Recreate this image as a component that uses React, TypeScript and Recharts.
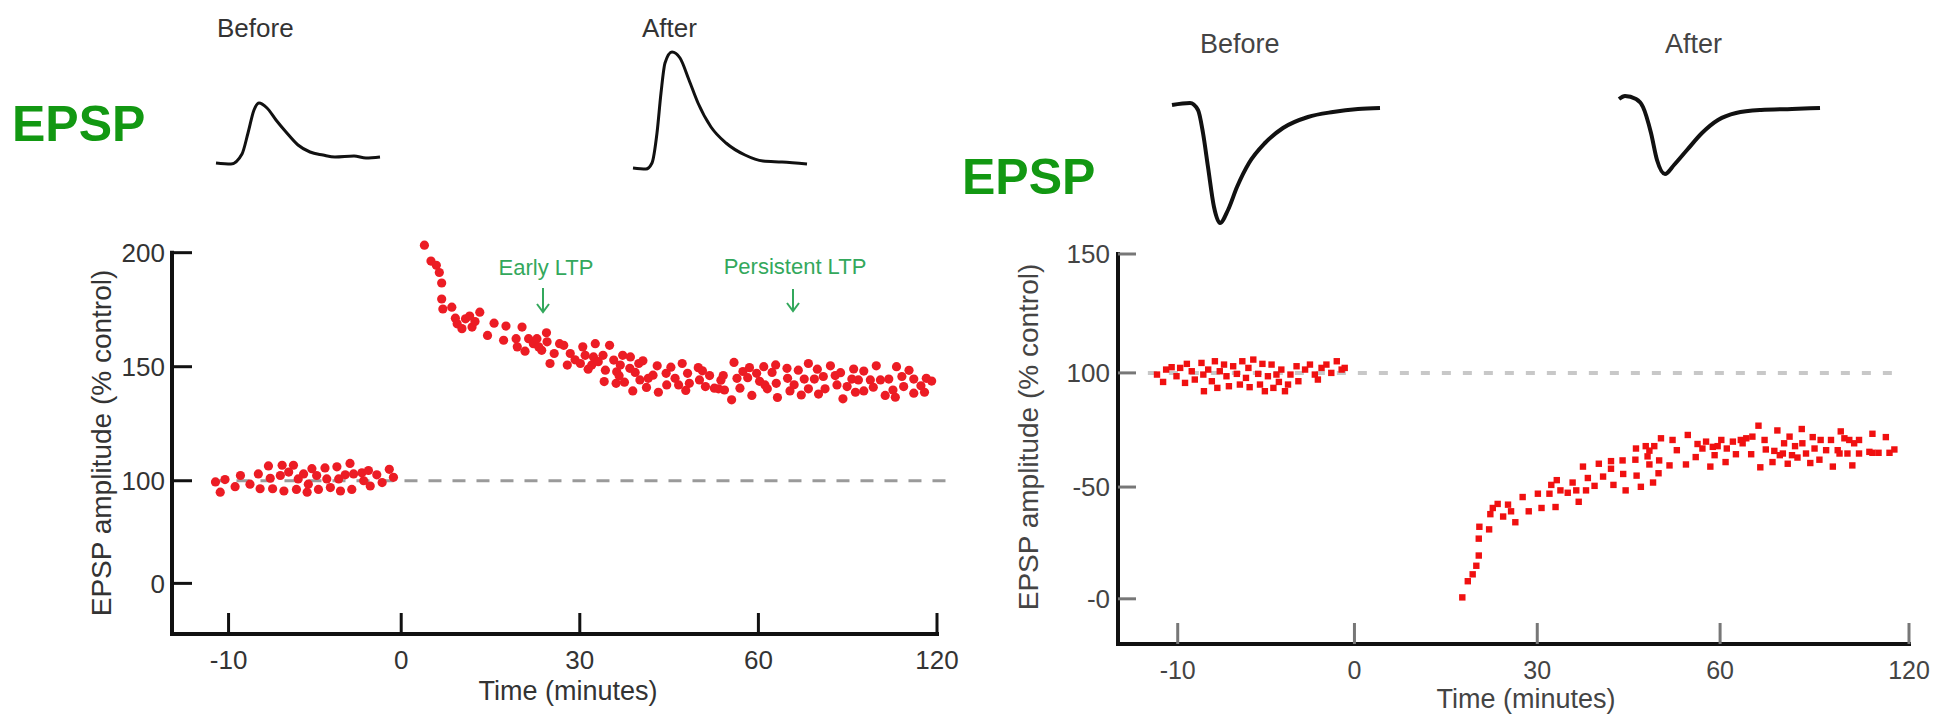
import React from 'react';
import { ScatterChart, Scatter, LineChart, Line, XAxis, YAxis, ReferenceLine } from 'recharts';

const FONT = '"Liberation Sans", Arial, Helvetica, sans-serif';
const GREEN = '#129812';
const NOTE_GREEN = '#33a85c';

// tick positions on each axis and the labels printed at them
const leftXTicks = [-29, 0, 30, 60, 90];
const rightXTicks = [-29, 0, 30, 60, 91];
const xTickLabels = ['-10', '0', '30', '60', '120'];
const leftYTicks = [55, 100, 150, 200];
const leftYLabels = ['0', '100', '150', '200'];
const rightYTicks = [5, 52, 100, 150];
const rightYLabels = ['-0', '-50', '100', '150'];

// EPSP traces: [time, amplitude]
const leftBefore = [
  [0, 2], [15, 1], [26, 11], [32, 32], [38, 55], [43, 62], [51, 57], [60, 45], [70, 33],
  [82, 20], [94, 13], [107, 10], [119, 8], [138, 9], [150, 7], [164, 8],
];
const leftAfter = [
  [0, 0], [13, -1], [19, 5], [24, 35], [28, 75], [32, 105], [39, 116], [47, 110], [56, 88],
  [65, 65], [78, 41], [93, 25], [112, 13], [130, 7], [149, 6], [174, 4],
];
const rightBefore = [
  [0, 0], [18, 2], [26, -5], [31, -28], [36, -62], [42, -102], [48, -118], [56, -105],
  [65, -82], [77, -58], [93, -38], [111, -23], [136, -12], [161, -7], [186, -4], [208, -3],
];
const rightAfter = [
  [0, 0], [6, 3], [17, 0], [24, -8], [32, -34], [38, -61], [46, -75], [55, -66], [68, -51],
  [83, -34], [99, -21], [117, -14], [142, -11], [173, -10], [201, -9],
];

// left panel (LTP): [time, % control]
const leftBaseline = [
  [-31.2, 99.5], [-30.4, 95.0], [-29.6, 100.5], [-27.9, 97.4], [-27.0, 102.3], [-25.4, 98.5],
  [-24.0, 103.0], [-23.7, 96.5], [-22.3, 106.5], [-22.0, 101.1], [-21.6, 96.5], [-20.3, 102.3],
  [-20.0, 106.8], [-19.7, 95.5], [-18.9, 103.8], [-18.1, 106.8], [-17.6, 96.2], [-17.3, 100.8],
  [-16.4, 103.0], [-15.8, 95.0], [-15.6, 98.5], [-15.0, 105.3], [-14.2, 102.3], [-13.9, 96.2],
  [-12.8, 105.6], [-12.5, 100.8], [-11.9, 97.0], [-10.8, 106.1], [-10.5, 100.8], [-10.2, 95.5],
  [-9.4, 102.6], [-8.6, 107.6], [-8.3, 96.2], [-8.0, 103.0], [-6.6, 103.5], [-6.3, 100.0],
  [-5.5, 104.5], [-5.2, 97.7], [-4.1, 102.6], [-3.2, 99.2], [-2.0, 105.0], [-1.3, 101.5],
];
const leftPotentiated = [
  [3.9, 203.3], [5.0, 196.3], [5.9, 194.5], [6.4, 191.3], [6.8, 186.7], [6.8, 179.7], [7.0, 175.3],
  [8.5, 176.1], [9.1, 171.3], [9.4, 168.8], [10.2, 166.7], [10.8, 171.0], [11.5, 172.2], [11.9, 167.4],
  [12.4, 169.8], [13.2, 173.9], [14.5, 163.7], [15.6, 169.1], [17.2, 161.6], [17.6, 167.8], [19.3, 162.3],
  [19.5, 158.7], [20.3, 167.4], [20.8, 156.8], [21.4, 162.3], [22.2, 160.1], [22.8, 162.3], [23.1, 158.7],
  [23.6, 157.2], [24.4, 164.9], [24.5, 160.9], [25.0, 151.4], [25.7, 155.8], [26.6, 160.1], [27.3, 159.4],
  [27.9, 150.7], [28.4, 155.8], [29.2, 153.0], [30.1, 151.4], [30.5, 158.7], [30.9, 155.0], [31.4, 148.9],
  [32.0, 150.7], [32.3, 154.3], [32.6, 160.1], [33.1, 152.2], [33.9, 155.0], [34.3, 148.5], [34.1, 143.5],
  [35.0, 159.4], [35.7, 152.9], [36.1, 142.7], [36.2, 147.8], [36.6, 146.0], [36.8, 150.7], [37.2, 155.0],
  [37.5, 143.2], [38.4, 149.3], [38.5, 154.3], [38.9, 139.4], [39.3, 147.5], [39.9, 151.4], [40.1, 144.2],
  [40.6, 152.6], [41.2, 140.9], [41.5, 144.9], [42.3, 146.3], [43.0, 150.4], [43.2, 138.8], [44.5, 147.1],
  [44.6, 142.0], [45.3, 149.8], [46.0, 144.9], [46.6, 142.0], [47.2, 151.4], [47.8, 139.6], [48.1, 147.1],
  [48.4, 142.7], [49.9, 149.6], [50.1, 144.2], [50.6, 148.2], [51.1, 141.3], [51.8, 146.1], [52.6, 140.6],
  [53.3, 140.3], [53.7, 144.1], [54.1, 146.1], [54.3, 139.8], [55.5, 135.5], [55.9, 151.9], [56.4, 144.9],
  [56.9, 140.6], [57.4, 147.9], [58.2, 145.2], [58.5, 149.6], [58.9, 137.4], [59.7, 147.1], [60.2, 143.6],
  [60.9, 150.0], [61.1, 142.0], [61.5, 140.3], [62.3, 147.5], [62.9, 150.8], [63.0, 142.7], [63.2, 136.5],
  [64.8, 149.3], [64.9, 144.9], [65.3, 139.4], [66.0, 142.1], [66.7, 148.5], [67.2, 137.6], [67.7, 144.6],
  [68.4, 151.4], [68.4, 140.3], [69.4, 144.6], [69.9, 148.9], [70.1, 138.0], [70.9, 145.7], [71.2, 140.3],
  [72.1, 150.4], [72.9, 146.1], [73.2, 142.0], [73.8, 147.4], [74.2, 135.9], [74.9, 141.3], [75.7, 144.6],
  [76.0, 149.0], [76.3, 138.8], [76.8, 144.2], [77.7, 148.1], [77.7, 139.4], [78.8, 144.2], [79.3, 141.0],
  [79.8, 150.4], [80.5, 144.2], [81.3, 137.4], [81.9, 144.6], [82.6, 139.8], [83.0, 136.6], [83.2, 150.0],
  [84.1, 145.7], [84.4, 141.3], [85.3, 148.4], [86.1, 144.6], [86.1, 138.4], [87.3, 141.6], [87.9, 138.8],
  [88.2, 144.9], [89.1, 143.7],
];

// right panel (depression): [time, % control]
const rightBaseline = [
  [-32.4, 99.3], [-31.4, 96.2], [-30.9, 101.4], [-30.0, 102.4], [-29.2, 98.6], [-28.6, 102.1],
  [-27.8, 95.8], [-27.5, 103.8], [-26.7, 100.7], [-26.2, 97.2], [-25.1, 104.2], [-24.8, 99.3],
  [-24.7, 92.3], [-24.0, 101.4], [-23.4, 96.5], [-22.9, 104.9], [-22.5, 93.7], [-22.1, 100.7],
  [-21.4, 103.5], [-21.0, 98.6], [-20.6, 94.4], [-19.9, 102.8], [-19.3, 99.6], [-18.8, 95.1],
  [-18.4, 104.9], [-17.8, 97.9], [-17.4, 102.1], [-17.2, 94.0], [-16.6, 105.6], [-15.8, 99.6],
  [-15.5, 95.1], [-15.1, 103.8], [-14.7, 92.3], [-14.2, 98.6], [-13.6, 103.5], [-13.3, 93.7],
  [-12.8, 99.3], [-12.4, 96.2], [-12.0, 101.4], [-11.4, 92.3], [-10.9, 95.1], [-10.5, 99.3],
  [-9.5, 102.8], [-9.2, 96.5], [-8.1, 101.4], [-7.3, 103.5], [-6.5, 99.3], [-6.0, 97.2],
  [-5.4, 102.1], [-4.6, 103.5], [-3.8, 100.0], [-2.9, 104.9], [-2.1, 101.4], [-1.6, 102.1],
];
const rightDepressed = [
  [17.7, 5.6], [18.6, 12.4], [19.4, 15.3], [20.0, 18.9], [20.4, 23.2], [20.4, 30.3], [20.5, 35.3],
  [22.1, 34.2], [22.3, 40.6], [22.7, 43.2], [23.5, 44.9], [24.4, 39.6], [25.2, 44.6], [25.7, 41.8],
  [26.4, 37.2], [27.6, 47.8], [28.6, 41.8], [30.1, 49.2], [30.7, 43.2], [32.0, 49.2], [32.3, 52.9],
  [33.0, 43.6], [33.2, 54.9], [33.8, 50.6], [35.0, 49.6], [35.8, 53.9], [36.4, 50.6], [36.8, 45.8],
  [37.5, 60.6], [38.0, 50.6], [38.3, 55.8], [39.4, 52.5], [40.1, 61.8], [40.8, 56.4], [42.1, 62.9],
  [42.1, 59.7], [42.5, 52.9], [44.0, 63.2], [44.1, 57.5], [44.5, 50.6], [46.2, 68.2], [46.1, 63.5],
  [46.3, 56.8], [47.0, 52.1], [47.8, 69.2], [48.1, 64.9], [48.4, 61.5], [48.4, 67.3], [49.0, 53.9],
  [49.2, 69.2], [49.9, 57.8], [50.0, 63.2], [50.3, 72.5], [51.7, 61.1], [52.2, 71.8], [52.9, 67.5],
  [54.4, 61.5], [54.7, 73.9], [56.0, 64.6], [56.3, 70.1], [57.1, 68.2], [57.7, 71.1], [58.4, 60.6],
  [58.8, 68.9], [59.1, 65.4], [59.6, 69.2], [60.2, 71.8], [60.9, 62.5], [61.1, 68.2], [62.1, 71.1],
  [62.6, 65.8], [63.4, 71.8], [63.7, 70.4], [64.3, 72.5], [65.1, 65.8], [65.3, 73.2], [66.3, 77.8],
  [66.6, 60.3], [67.3, 71.8], [67.5, 67.8], [68.6, 62.5], [68.9, 67.2], [69.4, 75.8], [69.8, 65.4],
  [70.3, 66.1], [70.5, 70.4], [71.1, 61.8], [71.4, 73.2], [71.8, 65.4], [72.3, 69.2], [72.7, 64.4],
  [73.4, 76.4], [73.5, 70.4], [74.1, 66.1], [74.8, 62.1], [75.2, 73.0], [75.5, 68.2], [76.3, 63.5],
  [76.5, 71.8], [77.4, 67.5], [78.2, 71.8], [78.5, 60.6], [79.3, 67.5], [79.6, 66.1], [79.8, 75.4],
  [80.4, 72.5], [80.9, 66.1], [81.2, 71.8], [81.7, 61.1], [82.0, 70.4], [82.8, 66.1], [82.8, 71.8],
  [84.5, 66.8], [85.0, 74.4], [85.0, 66.4], [86.0, 66.4], [87.2, 73.0], [87.8, 66.4], [88.6, 67.8],
];

const toPts = (arr: number[][]) => arr.map(([t, v]) => ({ t, v }));

const redDot = (p: any) => <circle cx={p.cx} cy={p.cy} r={4.6} fill="#ec1c24" />;
const redSquare = (p: any) => <rect x={p.cx - 3.2} y={p.cy - 3.2} width={6.4} height={6.4} fill="#f01010" />;

function Trace({ data, x0, baseY, sw }: { data: number[][]; x0: number; baseY: number; sw: number }) {
  const ts = data.map((d) => d[0]);
  const vs = data.map((d) => d[1]);
  const tMax = Math.max(...ts);
  const vMin = Math.min(...vs);
  const vMax = Math.max(...vs);
  const pad = 4;
  return (
    <div style={{ position: 'absolute', left: x0 - pad, top: baseY - vMax - pad }}>
      <LineChart
        width={tMax + pad * 2}
        height={vMax - vMin + pad * 2}
        data={toPts(data)}
        margin={{ top: pad, right: pad, bottom: pad, left: pad }}
      >
        <XAxis type="number" dataKey="t" domain={[0, tMax]} hide />
        <YAxis type="number" domain={[vMin, vMax]} hide />
        <Line type="monotone" dataKey="v" stroke="#111" strokeWidth={sw} dot={false} isAnimationActive={false} />
      </LineChart>
    </div>
  );
}

function Txt(props: {
  x: number; capTop: number; size: number; children: React.ReactNode;
  color?: string; bold?: boolean; center?: boolean;
}) {
  const { x, capTop, size, children, color = '#333', bold = false, center = false } = props;
  return (
    <div
      style={{
        position: 'absolute',
        top: capTop - 0.13 * size,
        left: center ? x - 300 : x,
        width: center ? 600 : undefined,
        textAlign: center ? 'center' : 'left',
        fontSize: size,
        lineHeight: 1,
        fontFamily: FONT,
        fontWeight: bold ? 700 : 400,
        color,
        whiteSpace: 'nowrap',
      }}
    >
      {children}
    </div>
  );
}

function YTitle({ cx, cy, color }: { cx: number; cy: number; color: string }) {
  return (
    <div
      style={{
        position: 'absolute',
        left: cx,
        top: cy,
        transform: 'translate(-50%, -50%) rotate(-90deg)',
        fontSize: 28,
        lineHeight: 1,
        fontFamily: FONT,
        color,
        whiteSpace: 'nowrap',
      }}
    >
      EPSP amplitude (% control)
    </div>
  );
}

function DownArrow({ x, y1, y2 }: { x: number; y1: number; y2: number }) {
  const h = y2 - y1;
  return (
    <svg style={{ position: 'absolute', left: x - 8, top: y1 }} width={16} height={h + 2}>
      <line x1={8} y1={0} x2={8} y2={h} stroke={NOTE_GREEN} strokeWidth={2} />
      <polyline points={`2,${h - 8} 8,${h} 14,${h - 8}`} fill="none" stroke={NOTE_GREEN} strokeWidth={2} />
    </svg>
  );
}

export default function App() {
  const lookup = (ticks: number[], labels: string[]) => (v: number) => labels[ticks.indexOf(v)] ?? '';
  const leftXMin = -38.5;
  const leftYMin = 32.8;
  return (
    <div style={{ position: 'absolute', left: 0, top: 0, width: 1946, height: 715, background: '#fff', overflow: 'hidden' }}>
      {/* left panel: LTP */}
      <div style={{ position: 'absolute', left: 0, top: 0 }}>
        <ScatterChart width={960} height={715} margin={{ top: 239, right: 23, bottom: 11, left: 112 }}>
          <XAxis
            type="number"
            dataKey="t"
            domain={[leftXMin, 90]}
            allowDataOverflow
            ticks={leftXTicks}
            interval={0}
            tickFormatter={lookup(leftXTicks, xTickLabels)}
            height={70}
            axisLine={{ stroke: '#111', strokeWidth: 4, strokeLinecap: 'square' }}
            tickLine={{ stroke: '#111', strokeWidth: 3 }}
            tickSize={-21}
            tickMargin={38}
            tick={{ fill: '#333', fontSize: 26, fontFamily: FONT }}
          />
          <YAxis
            type="number"
            dataKey="v"
            domain={[leftYMin, 206]}
            allowDataOverflow
            ticks={leftYTicks}
            interval={0}
            tickFormatter={lookup(leftYTicks, leftYLabels)}
            width={60}
            axisLine={false}
            tickLine={{ stroke: '#111', strokeWidth: 3 }}
            tickSize={-20}
            tickMargin={27}
            tick={{ fill: '#333', fontSize: 26, fontFamily: FONT }}
          />
          {/* y axis line stops at the top tick */}
          <ReferenceLine
            segment={[{ x: leftXMin, y: leftYMin }, { x: leftXMin, y: 200 }]}
            stroke="#111"
            strokeWidth={4}
            strokeLinecap="square"
            ifOverflow="visible"
          />
          <ReferenceLine
            segment={[{ x: -31.7, y: 100 }, { x: 91.5, y: 100 }]}
            stroke="#9a9a9a"
            strokeWidth={3}
            strokeDasharray="13 11"
            ifOverflow="visible"
          />
          <Scatter data={toPts(leftBaseline)} shape={redDot} isAnimationActive={false} />
          <Scatter data={toPts(leftPotentiated)} shape={redDot} isAnimationActive={false} />
        </ScatterChart>
      </div>

      {/* right panel: depression */}
      <div style={{ position: 'absolute', left: 960, top: 0 }}>
        <ScatterChart width={986} height={715} margin={{ top: 254, right: 37, bottom: 6, left: 98 }}>
          <XAxis
            type="number"
            dataKey="t"
            domain={[-38.8, 91]}
            allowDataOverflow
            ticks={rightXTicks}
            interval={0}
            tickFormatter={lookup(rightXTicks, xTickLabels)}
            height={65}
            axisLine={{ stroke: '#111', strokeWidth: 4, strokeLinecap: 'square' }}
            tickLine={{ stroke: '#777', strokeWidth: 3 }}
            tickSize={-21}
            tickMargin={38}
            tick={{ fill: '#444', fontSize: 25, fontFamily: FONT }}
          />
          <YAxis
            type="number"
            dataKey="v"
            domain={[-14, 150]}
            allowDataOverflow
            ticks={rightYTicks}
            interval={0}
            tickFormatter={lookup(rightYTicks, rightYLabels)}
            width={60}
            axisLine={{ stroke: '#111', strokeWidth: 4, strokeLinecap: 'square' }}
            tickLine={{ stroke: '#777', strokeWidth: 3 }}
            tickSize={-18}
            tickMargin={26}
            tick={{ fill: '#444', fontSize: 26, fontFamily: FONT }}
          />
          <ReferenceLine
            segment={[{ x: -33.9, y: 100 }, { x: 89.5, y: 100 }]}
            stroke="#c8c8c8"
            strokeWidth={4}
            strokeDasharray="9 12"
            ifOverflow="visible"
          />
          <Scatter data={toPts(rightBaseline)} shape={redSquare} isAnimationActive={false} />
          <Scatter data={toPts(rightDepressed)} shape={redSquare} isAnimationActive={false} />
        </ScatterChart>
      </div>

      {/* EPSP traces */}
      <Trace data={leftBefore} x0={216} baseY={165} sw={3} />
      <Trace data={leftAfter} x0={633} baseY={168} sw={3} />
      <Trace data={rightBefore} x0={1172} baseY={105} sw={4} />
      <Trace data={rightAfter} x0={1619} baseY={99} sw={4} />

      {/* titles and notes */}
      <Txt x={12} capTop={105} size={50} bold color={GREEN}>EPSP</Txt>
      <Txt x={962} capTop={158} size={50} bold color={GREEN}>EPSP</Txt>
      <Txt x={217} capTop={18} size={26}>Before</Txt>
      <Txt x={642} capTop={18} size={26}>After</Txt>
      <Txt x={1200} capTop={35} size={27} color="#444">Before</Txt>
      <Txt x={1665} capTop={35} size={27} color="#444">After</Txt>
      <Txt x={568} capTop={682} size={27} center>Time (minutes)</Txt>
      <Txt x={1526} capTop={690} size={27} center color="#444">Time (minutes)</Txt>
      <Txt x={546} capTop={260} size={22} center color={NOTE_GREEN}>Early LTP</Txt>
      <Txt x={795} capTop={259} size={22} center color={NOTE_GREEN}>Persistent LTP</Txt>
      <DownArrow x={543} y1={288} y2={312} />
      <DownArrow x={793} y1={289} y2={311} />
      <YTitle cx={102} cy={443} color="#333" />
      <YTitle cx={1029} cy={437} color="#444" />
    </div>
  );
}
